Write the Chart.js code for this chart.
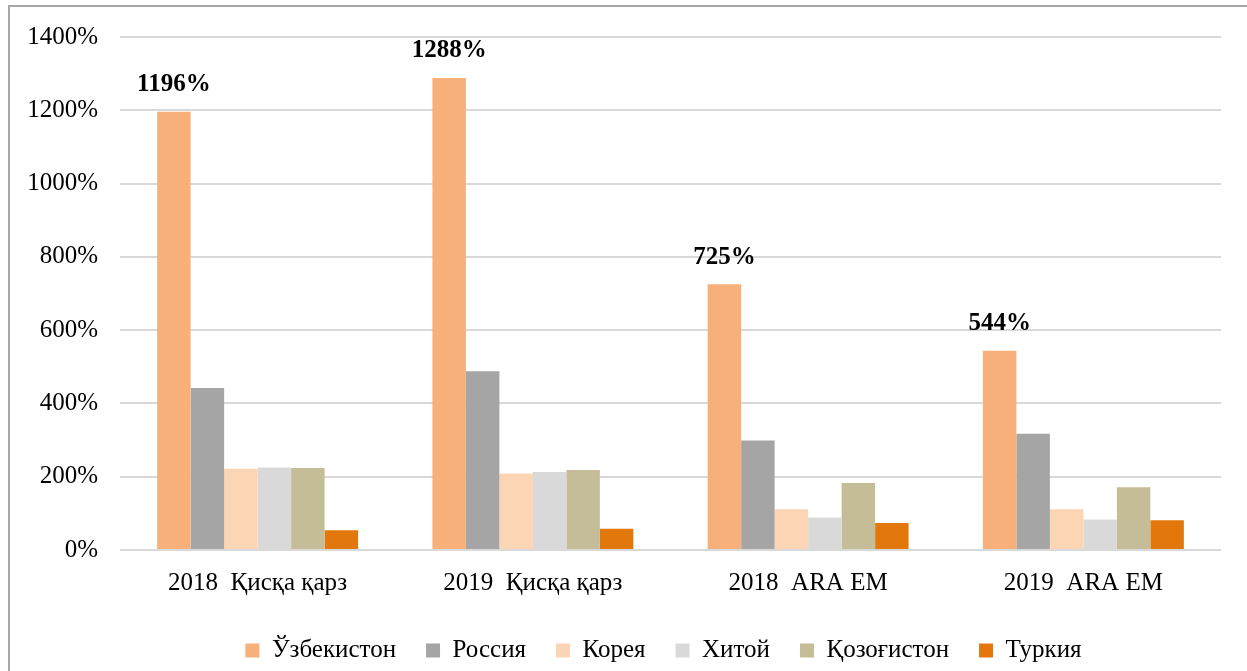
<!DOCTYPE html>
<html>
<head>
<meta charset="utf-8">
<script src="https://cdn.jsdelivr.net/npm/chart.js@4"></script>
<style>
  html, body { margin: 0; padding: 0; background: #fff; overflow: hidden; }
  #frame { position: absolute; left: 8px; top: 5px; width: 1300px; height: 700px; border: 2px solid #a6a6a6; }
  #chart { position: absolute; left: 0; top: 0; }
</style>
</head>
<body>
<div id="frame"></div>
<canvas id="chart" width="1247" height="673"></canvas>
<script>
const categories = ['2018  Қисқа қарз', '2019  Қисқа қарз', '2018  ARA EM', '2019  ARA EM'];

const uzbekistan = [1196, 1288, 725, 544];
const russia = [442, 488, 299, 317];
const korea = [222, 209, 111, 111];
const china = [225, 213, 89, 83];
const kazakhstan = [224, 218, 183, 171];
const turkey = [54, 58, 74, 81];

const yTicks = [0, 200, 400, 600, 800, 1000, 1200, 1400];

const legendPad = 30;

Chart.defaults.font.family = "'Liberation Serif', 'Times New Roman', serif";
Chart.defaults.font.size = 25;
Chart.defaults.color = '#000';

// bold value labels over the Uzbekistan bars
const valueLabels = {
  id: 'valueLabels',
  afterDatasetsDraw(chart) {
    const ctx = chart.ctx;
    const meta = chart.getDatasetMeta(0);
    ctx.save();
    ctx.font = "bold 25px 'Liberation Serif', 'Times New Roman', serif";
    ctx.fillStyle = '#000';
    ctx.textAlign = 'center';
    ctx.textBaseline = 'middle';
    meta.data.forEach((bar, i) => {
      ctx.fillText(uzbekistan[i] + '%', bar.x, bar.y - 27);
    });
    ctx.restore();
  }
};

// legend sits a little left of the plot centre in the original
const legendShift = {
  id: 'legendShift',
  beforeDraw(chart) {
    if (chart.legend && !chart.legend._shifted) {
      chart.legend.left -= 7;
      chart.legend.right -= 7;
      chart.legend._shifted = true;
    }
  }
};

new Chart(document.getElementById('chart'), {
  type: 'bar',
  data: {
    labels: categories,
    datasets: [
      { label: 'Ўзбекистон', data: uzbekistan, backgroundColor: '#f7b07a' },
      { label: 'Россия', data: russia, backgroundColor: '#a5a5a5' },
      { label: 'Корея', data: korea, backgroundColor: '#fcd5b4' },
      { label: 'Хитой', data: china, backgroundColor: '#d9d9d9' },
      { label: 'Қозоғистон', data: kazakhstan, backgroundColor: '#c4bd97' },
      { label: 'Туркия', data: turkey, backgroundColor: '#e2780b' }
    ]
  },
  options: {
    responsive: false,
    animation: false,
    layout: { padding: { left: 0, right: 26, top: 36, bottom: 0 } },
    datasets: {
      bar: { categoryPercentage: 0.73, barPercentage: 1.0, borderWidth: 0 }
    },
    plugins: {
      legend: {
        position: 'bottom',
        fullSize: false,
        labels: { boxWidth: 14, boxHeight: 14, padding: legendPad, color: '#000' }
      },
      tooltip: { enabled: false }
    },
    scales: {
      x: {
        grid: { display: false },
        border: { display: false },
        ticks: { padding: 10, maxRotation: 0 },
        afterFit(scale) { scale.height = 88 - legendPad; }
      },
      y: {
        min: 0,
        max: 1400,
        grid: { color: '#d9d9d9', lineWidth: 2, drawTicks: false },
        border: { display: false },
        afterBuildTicks(scale) { scale.ticks = yTicks.map(v => ({ value: v })); },
        ticks: { padding: 22, callback: v => v + '%' },
        afterFit(scale) { scale.width = 120; }
      }
    }
  },
  plugins: [valueLabels, legendShift]
});
</script>
</body>
</html>
